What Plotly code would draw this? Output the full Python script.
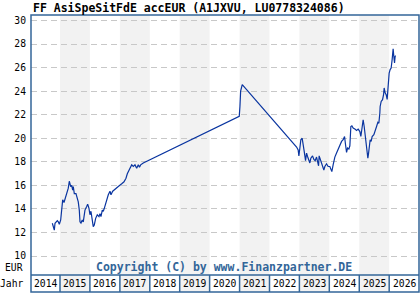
import plotly.graph_objects as go
import pandas as pd

# ---- data (decimal years) ----
t_years = [
    2014.743, 2014.810, 2014.833, 2014.910, 2014.943, 2014.977, 2015.023, 2015.057, 2015.090, 2015.134,
    2015.167, 2015.224, 2015.277, 2015.311, 2015.357, 2015.391, 2015.424, 2015.444, 2015.478, 2015.534,
    2015.578, 2015.611, 2015.645, 2015.668, 2015.701, 2015.745, 2015.778, 2015.835, 2015.892, 2015.925,
    2015.969, 2016.002, 2016.035, 2016.069, 2016.112, 2016.146, 2016.192, 2016.246, 2016.303, 2016.336,
    2016.369, 2016.413, 2016.446, 2016.480, 2016.536, 2016.580, 2016.613, 2016.670, 2016.703, 2016.760,
    2016.837, 2016.947, 2017.061, 2017.138, 2017.204, 2017.248, 2017.338, 2017.395, 2017.448, 2017.505,
    2017.562, 2017.615, 2017.655, 2017.695, 2017.782,
    2020.989, 2021.012, 2021.035, 2021.089,
    2022.849, 2022.906, 2022.959, 2022.983, 2023.016, 2023.049, 2023.093, 2023.126, 2023.160, 2023.206,
    2023.240, 2023.273, 2023.317, 2023.350, 2023.383, 2023.440, 2023.484, 2023.527, 2023.574, 2023.607,
    2023.641, 2023.661, 2023.707, 2023.774, 2023.818, 2023.851, 2023.908, 2023.961, 2024.018, 2024.052,
    2024.085, 2024.128, 2024.185, 2024.242, 2024.295, 2024.352, 2024.409, 2024.462, 2024.509, 2024.542,
    2024.576, 2024.609, 2024.653, 2024.686, 2024.719, 2024.753, 2024.796, 2024.853, 2024.910, 2024.963,
    2025.020, 2025.053, 2025.097, 2025.130, 2025.164, 2025.197, 2025.230, 2025.264, 2025.287, 2025.311,
    2025.331, 2025.364, 2025.397, 2025.431, 2025.488, 2025.531, 2025.578, 2025.621, 2025.655, 2025.688,
    2025.698, 2025.732, 2025.778, 2025.812, 2025.832, 2025.865, 2025.899, 2025.932, 2025.965, 2025.999,
    2026.032, 2026.066, 2026.099, 2026.132, 2026.155, 2026.179, 2026.199, 2026.222,
]
prices = [
    12.78, 12.20, 12.78, 13.00, 12.90, 12.70, 13.06, 14.20, 14.77, 14.54,
    14.80, 15.30, 15.76, 16.35, 15.90, 16.00, 15.60, 15.90, 15.30, 15.30,
    14.90, 14.60, 13.90, 12.90, 12.80, 13.06, 12.90, 13.90, 14.20, 14.40,
    14.05, 13.50, 13.80, 13.06, 12.50, 12.64, 13.20, 13.50, 13.35, 13.60,
    13.35, 13.90, 13.80, 14.05, 14.50, 15.05, 15.20, 15.50, 15.20, 15.50,
    15.70, 15.90, 16.13, 16.30, 16.60, 16.98, 17.46, 17.74, 17.60, 17.74,
    17.46, 17.74, 17.55, 17.74, 17.90,
    21.86, 22.70, 24.00, 24.55,
    19.45, 19.25, 19.00, 18.50, 19.17, 19.87, 20.00, 19.60, 18.90, 18.10,
    18.74, 18.45, 18.17, 17.90, 18.30, 18.50, 18.20, 18.10, 18.40, 18.03,
    17.66, 18.50, 18.17, 17.74, 17.30, 17.60, 17.83, 17.60, 17.60, 17.38,
    17.17, 17.74, 18.40, 18.74, 19.08, 19.53, 19.73, 19.87, 20.15, 19.45,
    18.80, 19.17, 19.08, 19.36, 21.00, 21.06, 20.87, 20.78, 20.66, 20.78,
    20.57, 20.15, 20.87, 21.57, 21.00, 20.30, 19.87, 18.87, 18.30, 18.74,
    19.53, 19.87, 19.73, 20.15, 20.30, 20.57, 21.00, 21.35, 21.28, 22.14,
    22.70, 23.13, 23.28, 23.70, 24.27, 23.85, 23.70, 23.30, 24.68, 25.53,
    25.83, 25.97, 26.68, 27.60, 26.96, 26.40, 26.96, 27.00,
]
years = list(range(2014, 2027))
y_ticks = list(range(10, 31, 2))
title_text = "FF AsiSpeSitFdE accEUR (A1JXVU, LU0778324086)"
copyright_text = "Copyright (C) by www.Finanzpartner.DE"


def to_date(t):
    y = int(t)
    start = pd.Timestamp(year=y, month=1, day=1)
    end = pd.Timestamp(year=y + 1, month=1, day=1)
    return start + (end - start) * (t - y)


dates = [to_date(t) for t in t_years]

MONO = "DejaVu Sans Mono"
BORDER = "#336699"
SHADE = "#f2f2f2"

fig = go.Figure()
fig.add_trace(go.Scatter(x=dates, y=prices, mode="lines",
                         line=dict(color="#0a35a0", width=1.2), hoverinfo="skip"))

PLOT_H = 260.0
row_h = 17.0 / PLOT_H
shapes = []
for yr in years:
    x0 = f"{yr}-01-01"
    x1 = f"{yr + 1}-01-01"
    if yr % 2 == 1:
        shapes.append(dict(type="rect", xref="x", yref="paper", x0=x0, x1=x1, y0=-row_h, y1=1,
                           fillcolor=SHADE, line=dict(width=0), layer="below"))
    if yr > 2014:
        shapes.append(dict(type="line", xref="x", yref="paper", x0=x0, x1=x0, y0=-row_h, y1=0,
                           line=dict(color=BORDER, width=1.5), layer="above"))
# boxes
shapes.append(dict(type="rect", xref="paper", yref="paper", x0=0, x1=1, y0=-row_h, y1=1,
                   line=dict(color=BORDER, width=1.5), fillcolor="rgba(0,0,0,0)", layer="above"))
shapes.append(dict(type="line", xref="paper", yref="paper", x0=0, x1=1, y0=0, y1=0,
                   line=dict(color=BORDER, width=1.5), layer="above"))

annotations = []
for yr in years:
    annotations.append(dict(x=f"{yr}-07-02", y=-row_h / 2, xref="x", yref="paper", text=str(yr),
                            showarrow=False, font=dict(family=MONO, size=9.7, color="#000000"),
                            xanchor="center", yanchor="middle"))
annotations.append(dict(x=0, y=-row_h / 2, xref="paper", yref="paper", text="Jahr", showarrow=False,
                        xanchor="right", yanchor="middle", xshift=-6,
                        font=dict(family=MONO, size=9.7, color="#000000")))
annotations.append(dict(x=0, y=8.0 / PLOT_H, xref="paper", yref="paper", text="EUR", showarrow=False,
                        xanchor="right", yanchor="middle", xshift=-6,
                        font=dict(family=MONO, size=9.7, color="#000000")))
annotations.append(dict(x=0.497, y=8.0 / PLOT_H, xref="paper", yref="paper", text="<b>" + copyright_text + "</b>",
                        showarrow=False, xanchor="center", yanchor="middle",
                        font=dict(family=MONO, size=11.5, color=BORDER)))
annotations.append(dict(x=0, y=1 + 7.0 / PLOT_H, xref="paper", yref="paper", text="<b>" + title_text + "</b>",
                        showarrow=False, xanchor="left", yanchor="middle",
                        font=dict(family=MONO, size=11.5, color="#000000")))

fig.update_layout(
    width=420, height=300,
    margin=dict(l=31, r=1, t=15, b=25),
    paper_bgcolor="white", plot_bgcolor="rgba(0,0,0,0)",
    showlegend=False,
    shapes=shapes, annotations=annotations,
    xaxis=dict(type="date", range=["2014-01-12", "2026-12-31"], showgrid=False, zeroline=False,
               showticklabels=False, ticks="", showline=False, fixedrange=True),
    yaxis=dict(range=[8.386, 30.467], tickvals=y_ticks, ticktext=[str(v) for v in y_ticks],
               showgrid=True, gridcolor="#c8c8c8", gridwidth=1, griddash="6px,4px",
               zeroline=False, showline=False, ticks="", ticklabelstandoff=4,
               tickfont=dict(family=MONO, size=9.7, color="#000000"), fixedrange=True),
)

fig.write_html("out.html", config={"displayModeBar": False})
